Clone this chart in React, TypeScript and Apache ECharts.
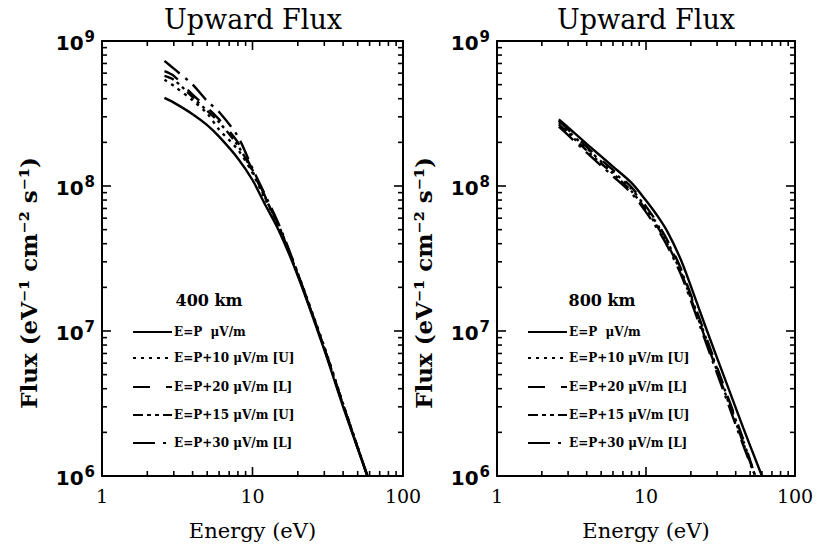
import React, { useEffect, useRef } from "react";
import * as echarts from "echarts";

// ---------- data ----------
const panelTitles = ["Upward Flux", "Upward Flux"];
const altitudeLabels = ["400 km", "800 km"];
const seriesNames = [
  "E=P  μV/m",
  "E=P+10 μV/m [U]",
  "E=P+20 μV/m [L]",
  "E=P+15 μV/m [U]",
  "E=P+30 μV/m [L]",
];
const xTickLabels = ["1", "10", "100"];

// tick positions (major decades and minor 2..9 multiples)
const xMajorTicks = [10];
const xMinorTicks = [2, 3, 4, 5, 6, 7, 8, 9, 20, 30, 40, 50, 60, 70, 80, 90];
const yMajorTicks = [1e7, 1e8];
const yMinorTicks = [
  2e6, 3e6, 4e6, 5e6, 6e6, 7e6, 8e6, 9e6,
  2e7, 3e7, 4e7, 5e7, 6e7, 7e7, 8e7, 9e7,
  2e8, 3e8, 4e8, 5e8, 6e8, 7e8, 8e8, 9e8,
];

// 400 km panel
const energy400 = [2.6, 3, 4, 5, 6, 8, 10, 12, 15, 20, 30, 40, 58];
const flux400_P = [4.05e8, 3.76e8, 3.13e8, 2.63e8, 2.19e8, 1.55e8, 1.1e8, 7.6e7, 4.9e7, 2.4e7, 7.4e6, 3.0e6, 1.0e6];
const flux400_P10 = [5.4e8, 4.9e8, 3.9e8, 3.16e8, 2.45e8, 1.78e8, 1.23e8, 8.3e7, 5.25e7, 2.5e7, 7.8e6, 3.16e6, 1.0e6];
const flux400_P20 = [6.2e8, 5.75e8, 4.27e8, 3.47e8, 2.88e8, 2.0e8, 1.29e8, 8.7e7, 5.25e7, 2.45e7, 7.6e6, 3.1e6, 1.0e6];
const flux400_P15 = [5.75e8, 5.4e8, 4.1e8, 3.3e8, 2.75e8, 1.9e8, 1.26e8, 8.5e7, 5.25e7, 2.45e7, 7.6e6, 3.1e6, 1.0e6];
const flux400_P30 = [7.3e8, 6.45e8, 5.0e8, 3.85e8, 3.24e8, 2.19e8, 1.32e8, 8.9e7, 5.4e7, 2.5e7, 7.6e6, 3.1e6, 1.0e6];

// 800 km panel
const energy800_P = [2.6, 3, 4, 5, 6, 8, 10, 12, 14, 17, 20, 25.7, 35, 45, 60];
const flux800_P = [2.88e8, 2.54e8, 1.95e8, 1.6e8, 1.36e8, 1.05e8, 7.94e7, 6.17e7, 4.79e7, 3.16e7, 2.04e7, 1.0e7, 4.27e6, 2.14e6, 1.0e6];
const energy800 = [2.6, 3, 4, 5, 6, 8, 10, 12, 14, 17, 20, 25.7, 35, 45, 54];
const flux800_P10 = [2.75e8, 2.4e8, 1.82e8, 1.48e8, 1.26e8, 9.55e7, 7.08e7, 5.37e7, 4.07e7, 2.69e7, 1.74e7, 8.5e6, 3.55e6, 1.74e6, 1.0e6];
const flux800_P20 = [2.82e8, 2.45e8, 1.86e8, 1.51e8, 1.29e8, 9.8e7, 7.24e7, 5.5e7, 4.17e7, 2.75e7, 1.78e7, 8.7e6, 3.63e6, 1.78e6, 1.0e6];
const flux800_P15 = [2.66e8, 2.32e8, 1.76e8, 1.43e8, 1.22e8, 9.2e7, 6.84e7, 5.19e7, 3.94e7, 2.6e7, 1.68e7, 8.2e6, 3.43e6, 1.68e6, 1.0e6];
const flux800_P30 = [2.57e8, 2.24e8, 1.7e8, 1.38e8, 1.17e8, 8.9e7, 6.6e7, 5.0e7, 3.8e7, 2.51e7, 1.62e7, 7.9e6, 3.3e6, 1.62e6, 1.0e6];

// ---------- styling ----------
const dashes: any[] = ["solid", [3, 5], [16, 14], [10, 4, 3, 4, 3, 4], [20, 7, 3, 7]];
const legendDashes: any[] = [null, [3, 5], [17, 16], [10, 4, 4, 4, 4, 4], [22, 8, 3, 7]];

const GRIDS = [
  { left: 102, top: 41, width: 301, height: 435 },
  { left: 497, top: 41, width: 298, height: 435 },
];
const MAJOR_LEN = 9;
const MINOR_LEN = 5;

const zip = (xs: number[], ys: number[]) => xs.map((x, i) => [x, ys[i]]);

const axisParts = () => ({
  axisLine: { show: true, onZero: false, lineStyle: { color: "#000", width: 2 } },
  axisTick: { show: false },
  minorTick: { show: false },
  splitLine: { show: false },
  minorSplitLine: { show: false },
});

export default function App() {
  const ref = useRef<HTMLDivElement>(null);
  useEffect(() => {
    if (!ref.current) return;
    const chart = echarts.init(ref.current, null, { renderer: "svg" });

    const panelData = [
      [
        zip(energy400, flux400_P),
        zip(energy400, flux400_P10),
        zip(energy400, flux400_P20),
        zip(energy400, flux400_P15),
        zip(energy400, flux400_P30),
      ],
      [
        zip(energy800_P, flux800_P),
        zip(energy800, flux800_P10),
        zip(energy800, flux800_P20),
        zip(energy800, flux800_P15),
        zip(energy800, flux800_P30),
      ],
    ];

    const xAxes: any[] = [];
    const yAxes: any[] = [];
    GRIDS.forEach((g, gi) => {
      xAxes.push({
        type: "log", min: 1, max: 100, gridIndex: gi, ...axisParts(),
        position: "bottom",
        name: "Energy (eV)",
        nameLocation: "middle",
        nameGap: 44,
        nameTextStyle: { fontFamily: "DejaVu Serif", fontSize: 21, color: "#000" },
        axisLabel: {
          show: true,
          margin: 10,
          fontFamily: "DejaVu Serif",
          fontSize: 19,
          color: "#000",
          formatter: (v: number) => xTickLabels[Math.round(Math.log10(v))],
        },
      });
      xAxes.push({
        type: "log", min: 1, max: 100, gridIndex: gi, ...axisParts(),
        position: "top",
        axisLabel: { show: false },
      });
      yAxes.push({
        type: "log", min: 1e6, max: 1e9, gridIndex: gi, ...axisParts(),
        position: "left",
        axisLabel: {
          show: true,
          margin: 7,
          formatter: (v: number) => `{a|10}{b|${Math.round(Math.log10(v))}}`,
          rich: {
            a: { fontFamily: "DejaVu Sans", fontWeight: "bold", fontSize: 20, color: "#000", verticalAlign: "bottom" },
            b: { fontFamily: "DejaVu Sans", fontWeight: "bold", fontSize: 15, color: "#000", verticalAlign: "top", padding: [0, 0, 9, 1] },
          },
        },
      });
      yAxes.push({
        type: "log", min: 1e6, max: 1e9, gridIndex: gi, ...axisParts(),
        position: "right",
        axisLabel: { show: false },
      });
    });

    const series: any[] = [];
    panelData.forEach((curves, gi) => {
      curves.forEach((d, si) => {
        series.push({
          type: "line",
          name: seriesNames[si],
          xAxisIndex: gi * 2,
          yAxisIndex: gi * 2,
          data: d,
          showSymbol: false,
          smooth: 0.3,
          lineStyle: { color: "#000", width: 2.4, type: dashes[si] },
          z: 3,
        });
      });
    });

    // inward tick marks on all four sides, each a short segment placed through the log axes
    GRIDS.forEach((g, gi) => {
      const fy = (len: number) => Math.pow(10, len / (g.height / 3)); // decades per px on y
      const fx = (len: number) => Math.pow(10, len / (g.width / 2)); // decades per px on x
      const segs: number[][][] = [];
      const xt = [...xMajorTicks.map((v) => [v, MAJOR_LEN]), ...xMinorTicks.map((v) => [v, MINOR_LEN])];
      xt.forEach(([v, len]) => {
        segs.push([[v, 1e6], [v, 1e6 * fy(len)]]);
        segs.push([[v, 1e9], [v, 1e9 / fy(len)]]);
      });
      const yt = [...yMajorTicks.map((v) => [v, MAJOR_LEN]), ...yMinorTicks.map((v) => [v, MINOR_LEN])];
      yt.forEach(([v, len]) => {
        segs.push([[1, v], [fx(len), v]]);
        segs.push([[100, v], [100 / fx(len), v]]);
      });
      segs.forEach((s) => {
        series.push({
          type: "line",
          xAxisIndex: gi * 2,
          yAxisIndex: gi * 2,
          data: s,
          showSymbol: false,
          silent: true,
          clip: false,
          lineStyle: { color: "#000", width: 1.6, type: "solid" },
          z: 4,
        });
      });
    });

    const graphics: any[] = [];
    const titleX = [253, 646];
    const legendX = [133, 528];
    const kmX = [209, 602];
    const yNameX = [28, 423];
    const rowY = [332, 358, 387, 415, 443];
    for (let p = 0; p < 2; p++) {
      graphics.push({
        type: "text",
        x: titleX[p],
        y: 19,
        style: {
          text: panelTitles[p],
          fontFamily: "DejaVu Serif",
          fontSize: 27,
          fill: "#000",
          align: "center",
          verticalAlign: "middle",
        },
      });
      graphics.push({
        type: "text",
        x: yNameX[p],
        y: 283,
        rotation: Math.PI / 2,
        style: {
          text: "Flux (eV⁻¹ cm⁻² s⁻¹)",
          fontFamily: "DejaVu Serif",
          fontWeight: "bold",
          fontSize: 23,
          fill: "#000",
          align: "center",
          verticalAlign: "middle",
        },
      });
      graphics.push({
        type: "text",
        x: kmX[p],
        y: 300,
        style: {
          text: altitudeLabels[p],
          fontFamily: "DejaVu Serif",
          fontWeight: "bold",
          fontSize: 16,
          fill: "#000",
          align: "center",
          verticalAlign: "middle",
        },
      });
      for (let i = 0; i < 5; i++) {
        graphics.push({
          type: "line",
          shape: { x1: legendX[p], y1: rowY[i], x2: legendX[p] + 39, y2: rowY[i] },
          style: { stroke: "#000", lineWidth: 2, lineDash: legendDashes[i] },
        });
        graphics.push({
          type: "text",
          x: legendX[p] + 41,
          y: rowY[i],
          style: {
            text: seriesNames[i],
            fontFamily: "DejaVu Serif",
            fontWeight: "bold",
            fontSize: 12,
            fill: "#000",
            align: "left",
            verticalAlign: "middle",
          },
        });
      }
    }

    chart.setOption({
      animation: false,
      grid: GRIDS,
      xAxis: xAxes,
      yAxis: yAxes,
      series,
      graphic: graphics,
    });

    return () => chart.dispose();
  }, []);
  return <div ref={ref} style={{ position: "absolute", left: 0, top: 0, width: 819, height: 548, background: "#fff" }} />;
}
